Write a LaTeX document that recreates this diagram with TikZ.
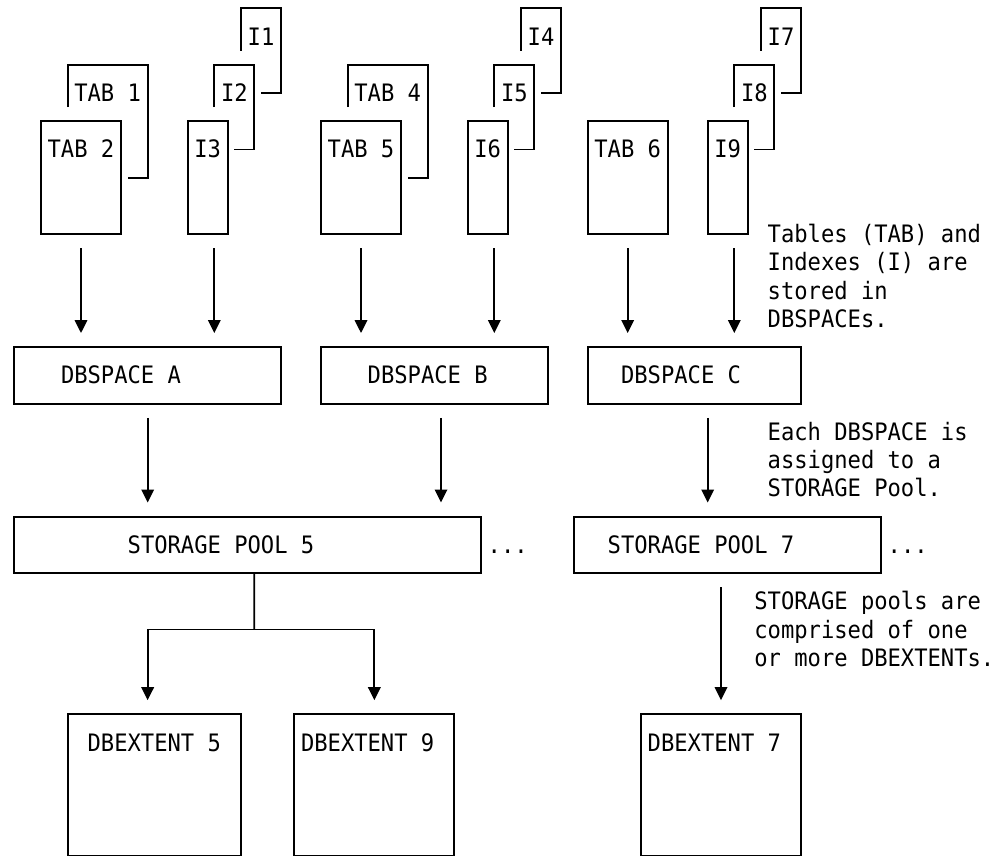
\documentclass[tikz,border=0pt]{standalone}
\usepackage{fontspec}
\newfontfamily\diagfont{DejaVu Sans Mono}[FakeStretch=0.9228]
\usetikzlibrary{arrows.meta,fit}
\begin{document}
\begin{tikzpicture}[
  line width=1.8pt,
  box/.style={draw, rectangle, inner sep=0pt, outer sep=0pt},
  lbl/.style={anchor=base west, inner sep=0pt, outer sep=0pt, yshift=-8.5pt,
    font=\diagfont\fontsize{24pt}{28.24pt}\selectfont},
  arr/.style={-{Triangle[width=12.5pt,length=13pt]}, shorten <=14.12pt, shorten >=14.12pt},
  note/.style={lbl},
]
\useasboundingbox (0pt,0pt) rectangle (1002pt,-856pt);
\begin{scope}[shift={(1pt,-8.3pt)}, x=13.3333pt, y=-28.24pt]
% back pages (partially hidden)
\draw (5,3.5) -- (5,2) -| (11,6) -- (9.5,6);
\draw (16,3.5) -- (16,2) -| (19,5) -- (17.5,5);
\draw (18,1.5) -- (18,0) -| (21,3) -- (19.5,3);
\draw (26,3.5) -- (26,2) -| (32,6) -- (30.5,6);
\draw (37,3.5) -- (37,2) -| (40,5) -- (38.5,5);
\draw (39,1.5) -- (39,0) -| (42,3) -- (40.5,3);
\draw (55,3.5) -- (55,2) -| (58,5) -- (56.5,5);
\draw (57,1.5) -- (57,0) -| (60,3) -- (58.5,3);
% front boxes
\node[box, fit={(3,4)(9,8)}] (tab2) {};
\node[box, fit={(14,4)(17,8)}] (i3) {};
\node[box, fit={(24,4)(30,8)}] (tab5) {};
\node[box, fit={(35,4)(38,8)}] (i6) {};
\node[box, fit={(44,4)(50,8)}] (tab6) {};
\node[box, fit={(53,4)(56,8)}] (i9) {};
\node[box, fit={(1,12)(21,14)}] (dbA) {};
\node[box, fit={(24,12)(41,14)}] (dbB) {};
\node[box, fit={(44,12)(60,14)}] (dbC) {};
\node[box, fit={(1,18)(36,20)}] (pool5) {};
\node[box, fit={(43,18)(66,20)}] (pool7) {};
\node[box, fit={(5,25)(18,30)}] (ext5) {};
\node[box, fit={(22,25)(34,30)}] (ext9) {};
\node[box, fit={(48,25)(60,30)}] (ext7) {};
% labels
\node[lbl] (l1) at (18.5,1) {I1};
\node[lbl] (l4) at (39.5,1) {I4};
\node[lbl] (l7) at (57.5,1) {I7};
\node[lbl] (ltab1) at (5.5,3) {TAB 1};
\node[lbl] (l2) at (16.5,3) {I2};
\node[lbl] (ltab4) at (26.5,3) {TAB 4};
\node[lbl] (l5) at (37.5,3) {I5};
\node[lbl] (l8) at (55.5,3) {I8};
\node[lbl] (ltab2) at (3.5,5) {TAB 2};
\node[lbl] (l3) at (14.5,5) {I3};
\node[lbl] (ltab5) at (24.5,5) {TAB 5};
\node[lbl] (l6) at (35.5,5) {I6};
\node[lbl] (ltab6) at (44.5,5) {TAB 6};
\node[lbl] (l9) at (53.5,5) {I9};
\node[lbl] (ldbA) at (4.5,13) {DBSPACE A};
\node[lbl] (ldbB) at (27.5,13) {DBSPACE B};
\node[lbl] (ldbC) at (46.5,13) {DBSPACE C};
\node[lbl] (lpool5) at (9.5,19) {STORAGE POOL 5};
\node[lbl] (dots5) at (36.5,19) {...};
\node[lbl] (lpool7) at (45.5,19) {STORAGE POOL 7};
\node[lbl] (dots7) at (66.5,19) {...};
\node[lbl] (lext5) at (6.5,26) {DBEXTENT 5};
\node[lbl] (lext9) at (22.5,26) {DBEXTENT 9};
\node[lbl] (lext7) at (48.5,26) {DBEXTENT 7};
% notes
\node[note] (n1) at (57.5,8) {\begin{tabular}[t]{@{}l@{}}Tables (TAB) and\\Indexes (I) are\\stored in\\DBSPACEs.\end{tabular}};
\node[note] (n2) at (57.5,15) {\begin{tabular}[t]{@{}l@{}}Each DBSPACE is\\assigned to a\\STORAGE Pool.\end{tabular}};
\node[note] (n3) at (56.5,21) {\begin{tabular}[t]{@{}l@{}}STORAGE pools are\\comprised of one\\or more DBEXTENTs.\end{tabular}};
% connectors: tables/indexes to DBSPACEs
\draw[arr] (tab2.south) -- (tab2.south |- dbA.north);
\draw[arr] ([xshift=6.667pt]i3.south) -- ([xshift=6.667pt]i3.south |- dbA.north);
\draw[arr] (tab5.south) -- (tab5.south |- dbB.north);
\draw[arr] ([xshift=6.667pt]i6.south) -- ([xshift=6.667pt]i6.south |- dbB.north);
\draw[arr] (tab6.south) -- (tab6.south |- dbC.north);
\draw[arr] ([xshift=6.667pt]i9.south) -- ([xshift=6.667pt]i9.south |- dbC.north);
% DBSPACEs to pools
\draw[arr] (dbA.south) -- (dbA.south |- pool5.north);
\draw[arr] ([xshift=6.667pt]dbB.south) -- ([xshift=6.667pt]dbB.south |- pool5.north);
\draw[arr] ([xshift=13.333pt]dbC.south) -- ([xshift=13.333pt]dbC.south |- pool7.north);
% pools to extents
\coordinate (split) at (19,22);
\draw ([xshift=6.667pt]pool5.south) -- (split);
\draw[arr, shorten <=0pt] (split) -| ([xshift=-6.667pt]ext5.north);
\draw[arr, shorten <=0pt] (split) -| (ext9.north);
\draw[arr] ([xshift=-6.667pt]pool7.south) -- ([xshift=-6.667pt]pool7.south |- ext7.north);
\end{scope}
\end{tikzpicture}
\end{document}
